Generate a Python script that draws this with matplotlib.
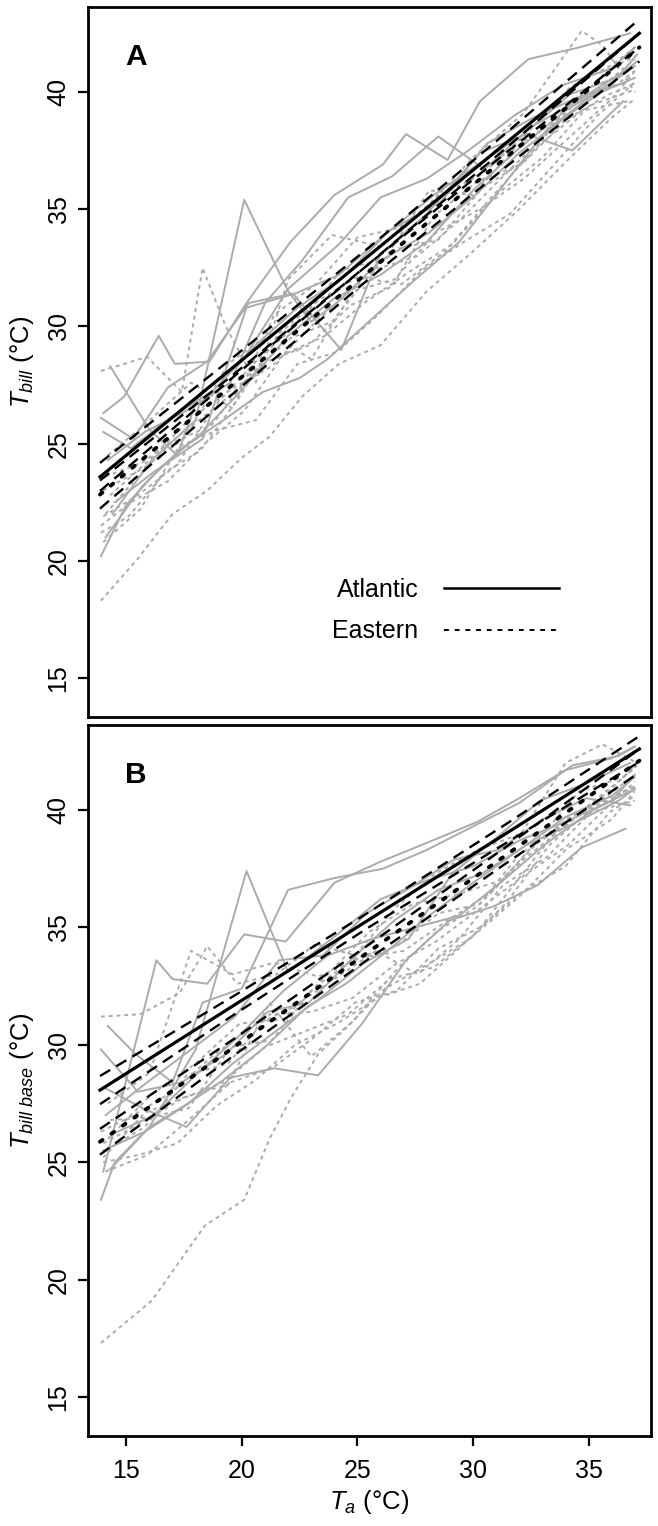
import numpy as np
import matplotlib
matplotlib.use("Agg")
from matplotlib import pyplot as plt

plt.rcParams['font.family'] = ['Liberation Sans', 'DejaVu Sans']
plt.rcParams['mathtext.fontset'] = 'custom'
plt.rcParams['mathtext.rm'] = 'Liberation Sans'
plt.rcParams['mathtext.it'] = 'Liberation Sans:italic'

""" ======================= Data: panel A (T bill) ======================= """
# individual birds, Atlantic (solid grey)
A_atl = [
    ([14.4, 16.1, 18.0, 20.1, 22.0, 23.0, 24.1, 26.0, 28.1, 30.1, 32.0, 34.1, 36.0, 37.1],
     [22.0, 24.3, 26.0, 35.4, 31.5, 30.2, 31.0, 32.8, 34.0, 35.6, 37.4, 39.0, 40.3, 41.6]),
    ([14.0, 14.9, 16.4, 17.1, 18.6, 20.2, 22.1, 24.0, 26.1, 27.1, 28.9, 30.3, 32.4, 34.6, 36.8],
     [26.3, 27.0, 29.6, 28.4, 28.5, 31.0, 33.6, 35.6, 36.9, 38.2, 37.1, 39.6, 41.4, 41.9, 42.5]),
    ([14.3, 16.0, 17.2, 18.1, 20.0, 22.0, 24.2, 26.0, 28.0, 29.8, 31.8, 33.9, 36.0, 37.0],
     [28.3, 25.6, 24.5, 27.0, 28.5, 31.6, 33.5, 35.5, 36.3, 37.5, 39.0, 40.3, 41.0, 41.9]),
    ([13.9, 15.3, 16.8, 18.5, 20.3, 22.2, 24.3, 26.0, 28.0, 30.3, 32.3, 34.3, 36.5],
     [26.1, 25.2, 27.4, 28.5, 31.0, 31.4, 29.0, 33.1, 34.8, 37.4, 38.2, 37.5, 39.6]),
    ([13.9, 15.0, 16.5, 18.2, 20.0, 22.0, 24.0, 26.0, 28.0, 30.0, 32.0, 34.0, 36.0, 37.0],
     [20.2, 22.4, 24.0, 25.4, 27.3, 29.6, 31.2, 32.2, 33.6, 35.8, 37.6, 39.2, 40.4, 41.1]),
    ([14.1, 15.7, 17.4, 19.2, 20.9, 22.5, 23.7, 25.6, 27.5, 29.4, 31.3, 33.2, 35.1, 37.0],
     [21.0, 23.2, 24.8, 26.0, 27.2, 27.8, 28.6, 30.3, 32.0, 33.6, 36.0, 38.4, 39.8, 40.6]),
    ([14.2, 15.8, 17.6, 19.5, 21.0, 22.6, 24.6, 26.5, 28.5, 30.5, 32.5, 34.5, 36.4],
     [24.3, 25.5, 26.4, 27.6, 31.0, 32.8, 35.5, 36.4, 38.1, 36.7, 38.5, 39.6, 40.8]),
    ([14.0, 15.2, 16.9, 18.8, 20.6, 22.4, 24.4, 26.3, 28.3, 30.2, 32.2, 34.2, 36.2, 37.1],
     [25.5, 24.8, 26.1, 27.3, 29.2, 30.8, 32.1, 34.0, 35.6, 36.9, 38.2, 39.9, 40.6, 41.3]),
    ([14.5, 16.2, 18.3, 20.2, 22.3, 24.2, 26.4, 28.6, 30.6, 32.6, 34.6, 36.6],
     [22.5, 23.8, 25.2, 30.8, 31.4, 32.2, 34.1, 35.3, 37.8, 38.9, 39.8, 40.4]),
]

# individual birds, Eastern (dotted grey)
A_eas = [
    ([13.9, 15.9, 17.4, 18.3, 19.3, 20.6, 22.0, 23.9, 26.0, 28.0, 30.0, 32.2, 34.7, 35.6, 37.0],
     [28.1, 28.7, 27.2, 32.5, 30.0, 27.6, 32.0, 33.9, 33.4, 35.1, 37.2, 39.1, 42.6, 42.0, 40.0]),
    ([13.9, 15.5, 17.0, 18.5, 20.0, 21.2, 22.6, 24.2, 26.0, 28.0, 30.0, 32.0, 34.0, 36.0, 37.0],
     [18.3, 20.1, 22.0, 23.0, 24.4, 25.3, 27.0, 28.4, 29.2, 31.5, 33.2, 35.0, 37.0, 38.9, 39.7]),
    ([13.9, 15.2, 16.8, 18.4, 20.1, 21.8, 23.6, 25.3, 27.2, 29.1, 31.0, 33.0, 35.0, 37.0],
     [21.5, 22.5, 23.4, 25.0, 26.4, 28.8, 29.6, 31.0, 32.3, 33.5, 35.6, 37.2, 39.4, 40.1]),
    ([14.0, 15.6, 17.3, 19.0, 20.6, 22.4, 24.1, 25.9, 27.8, 29.6, 31.6, 33.6, 35.4, 37.1],
     [20.8, 22.2, 24.9, 25.6, 26.0, 28.4, 28.9, 30.5, 32.4, 33.6, 34.8, 37.0, 39.0, 40.5]),
    ([14.1, 15.4, 16.9, 18.7, 20.4, 22.1, 23.9, 25.7, 27.6, 29.5, 31.4, 33.4, 35.3, 37.0],
     [22.0, 23.5, 25.0, 25.8, 28.0, 29.5, 30.2, 32.4, 33.0, 34.6, 36.5, 38.4, 40.0, 41.4]),
    ([14.0, 15.8, 17.6, 19.4, 21.2, 23.0, 24.8, 26.6, 28.4, 30.3, 32.2, 34.1, 36.0, 37.1],
     [23.0, 24.0, 25.3, 28.4, 29.7, 28.6, 31.5, 32.0, 34.0, 35.0, 36.3, 38.0, 39.7, 41.0]),
    ([14.2, 15.9, 17.8, 19.6, 21.4, 23.2, 25.0, 26.8, 28.6, 30.4, 32.3, 34.2, 36.1, 37.0],
     [24.5, 25.9, 27.6, 26.5, 30.5, 31.8, 33.8, 34.2, 35.6, 36.5, 38.2, 40.2, 41.2, 41.9]),
    ([13.9, 15.1, 16.7, 18.2, 19.9, 21.6, 23.3, 25.0, 26.9, 28.8, 30.7, 32.7, 34.7, 36.7],
     [21.2, 21.9, 23.8, 24.7, 27.0, 29.7, 31.1, 32.1, 31.8, 33.2, 35.4, 37.6, 39.2, 39.6]),
    ([14.3, 16.0, 17.7, 19.5, 21.3, 23.1, 24.9, 26.7, 28.5, 30.4, 32.3, 34.2, 36.2, 37.0],
     [22.8, 24.3, 26.0, 27.3, 28.3, 30.1, 31.7, 33.3, 33.7, 35.9, 37.1, 39.6, 40.3, 40.9]),
    ([14.0, 15.5, 17.2, 18.9, 20.7, 22.5, 24.3, 26.2, 28.1, 30.0, 31.9, 33.9, 35.9, 37.0],
     [21.9, 22.8, 24.1, 26.7, 28.6, 30.2, 32.4, 32.9, 35.8, 35.6, 37.7, 39.0, 41.0, 41.5]),
    ([14.1, 15.7, 17.5, 19.3, 21.1, 22.9, 24.7, 26.5, 28.3, 30.2, 32.1, 34.0, 35.9, 37.1],
     [23.6, 24.2, 25.5, 26.9, 28.5, 29.2, 30.9, 31.7, 34.7, 36.2, 36.9, 38.8, 39.9, 40.4]),
]

# model fits with confidence limits
fit_x = [13.86, 19.7, 25.5, 31.4, 37.2]
A_atl_fit = [23.58, 28.32, 33.02, 37.80, 42.50]
A_atl_up = [24.18, 28.74, 33.37, 38.22, 43.10]
A_atl_lo = [22.98, 27.90, 32.67, 37.38, 41.90]
A_eas_fit = [22.83, 27.60, 32.35, 37.18, 41.90]
A_eas_up = [23.43, 28.00, 32.67, 37.58, 42.50]
A_eas_lo = [22.23, 27.20, 32.03, 36.78, 41.30]

""" ======================= Data: panel B (T bill base) ======================= """
B_atl = [
    ([14.3, 16.0, 18.0, 20.2, 22.0, 24.0, 26.0, 28.0, 30.0, 32.0, 34.0, 36.0, 37.0],
     [24.7, 26.5, 29.8, 37.4, 33.1, 34.6, 36.2, 37.0, 37.6, 38.7, 39.5, 40.4, 41.5]),
    ([14.0, 16.3, 17.0, 18.5, 20.1, 21.9, 24.0, 26.0, 28.0, 30.2, 32.0, 34.0, 36.0, 37.0],
     [24.6, 33.6, 32.8, 32.6, 34.7, 34.4, 36.9, 37.8, 38.6, 39.5, 40.5, 41.7, 42.2, 42.7]),
    ([14.2, 15.4, 17.0, 18.3, 20.0, 22.0, 24.0, 26.1, 28.0, 30.0, 32.0, 34.3, 36.3, 37.0],
     [30.8, 29.6, 28.4, 31.8, 32.4, 36.6, 37.1, 37.5, 38.3, 39.3, 40.3, 41.9, 42.3, 42.7]),
    ([13.9, 15.5, 17.4, 19.3, 21.1, 22.9, 24.8, 26.6, 28.5, 30.4, 32.3, 34.3, 36.3, 37.0],
     [29.8, 28.0, 28.4, 29.6, 31.4, 31.8, 33.7, 35.3, 36.6, 37.3, 38.5, 39.4, 40.4, 40.9]),
    ([13.9, 14.5, 16.0, 17.5, 19.2, 21.0, 22.8, 24.5, 26.3, 28.1, 30.0, 32.0, 34.0, 36.0, 37.0],
     [23.4, 25.0, 26.5, 27.4, 28.5, 29.9, 31.6, 32.6, 34.0, 35.5, 36.9, 38.3, 39.7, 40.6, 41.4]),
    ([14.0, 15.7, 17.6, 19.5, 21.4, 23.3, 25.2, 27.1, 29.0, 30.9, 32.8, 34.7, 36.6],
     [28.2, 27.3, 26.5, 28.6, 29.0, 28.7, 30.9, 33.6, 35.3, 35.9, 36.8, 38.4, 39.2]),
    ([14.1, 15.9, 17.8, 19.7, 21.6, 23.5, 25.4, 27.3, 29.2, 31.1, 33.0, 34.9, 36.8],
     [27.0, 28.4, 29.8, 31.2, 33.6, 33.8, 35.6, 36.7, 37.9, 38.3, 39.6, 40.5, 40.2]),
    ([14.4, 16.2, 18.1, 19.9, 21.8, 23.7, 25.6, 27.5, 29.4, 31.3, 33.2, 35.2, 37.0],
     [26.2, 27.0, 28.8, 30.4, 32.3, 33.8, 34.5, 35.0, 35.5, 37.0, 38.6, 40.0, 40.9]),
    ([14.0, 15.8, 17.7, 19.6, 21.5, 23.4, 25.3, 27.2, 29.1, 31.0, 32.9, 34.8, 36.8],
     [25.5, 26.3, 27.5, 29.2, 30.6, 32.0, 33.5, 34.5, 37.3, 38.8, 40.4, 41.1, 42.0]),
]

B_eas = [
    ([13.9, 16.1, 18.4, 20.1, 21.2, 22.1, 23.3, 24.6, 26.2, 28.0, 30.0, 32.0, 34.0, 36.0, 37.0],
     [17.3, 19.1, 22.3, 23.4, 26.0, 27.7, 29.6, 30.8, 32.4, 33.4, 34.6, 37.1, 39.6, 40.6, 41.0]),
    ([13.9, 15.6, 17.3, 18.5, 19.8, 21.5, 23.2, 24.9, 26.7, 28.4, 30.2, 32.1, 34.0, 35.6, 37.1],
     [31.2, 31.3, 32.2, 34.2, 32.6, 33.0, 34.3, 33.8, 35.9, 37.3, 38.3, 39.0, 42.0, 42.8, 42.0]),
    ([14.0, 15.5, 17.2, 18.9, 20.6, 22.3, 24.1, 25.9, 27.7, 29.5, 31.4, 33.3, 35.2, 37.0],
     [25.0, 25.3, 25.8, 27.4, 28.5, 30.0, 30.9, 32.0, 32.6, 34.2, 36.0, 38.5, 40.1, 41.0]),
    ([14.1, 15.8, 17.6, 19.4, 21.2, 23.0, 24.8, 26.6, 28.4, 30.3, 32.2, 34.1, 36.0, 37.0],
     [25.5, 26.5, 28.7, 29.2, 31.3, 31.4, 32.0, 33.4, 34.4, 35.8, 37.2, 38.5, 40.3, 41.2]),
    ([13.9, 15.3, 17.0, 18.7, 20.5, 22.2, 24.0, 25.8, 27.6, 29.4, 31.3, 33.2, 35.1, 37.0],
     [26.3, 27.0, 28.0, 29.5, 30.8, 31.6, 32.8, 34.0, 33.0, 34.5, 36.8, 38.0, 39.9, 40.4]),
    ([14.2, 16.0, 17.8, 19.6, 21.4, 23.3, 25.1, 27.0, 28.9, 30.8, 32.7, 34.6, 36.5, 37.1],
     [27.5, 28.8, 34.0, 33.0, 33.5, 32.9, 33.7, 34.0, 35.3, 36.5, 38.6, 40.8, 41.4, 41.9]),
    ([14.0, 15.7, 17.4, 19.2, 21.0, 22.8, 24.6, 26.4, 28.3, 30.2, 32.1, 34.0, 36.0, 37.0],
     [25.8, 26.7, 27.7, 28.4, 29.9, 30.6, 31.3, 32.8, 33.3, 34.8, 36.4, 38.3, 39.6, 40.8]),
    ([14.3, 16.0, 17.7, 19.5, 21.3, 23.1, 24.9, 26.7, 28.5, 30.3, 32.2, 34.1, 36.0, 36.9],
     [26.8, 26.9, 27.3, 29.9, 30.2, 32.4, 33.7, 34.2, 35.6, 36.0, 37.9, 39.4, 40.9, 41.8]),
    ([14.1, 15.9, 17.7, 19.5, 21.3, 23.1, 24.9, 26.7, 28.5, 30.3, 32.1, 34.0, 35.9, 37.0],
     [24.6, 25.3, 26.8, 28.4, 29.0, 30.3, 31.8, 32.3, 34.1, 35.0, 36.5, 37.6, 39.9, 40.6]),
    ([14.0, 15.8, 17.6, 19.4, 21.2, 23.0, 24.8, 26.6, 28.4, 30.2, 32.0, 33.9, 35.8, 37.0],
     [25.2, 27.1, 27.8, 28.3, 31.8, 29.5, 31.0, 33.1, 34.8, 35.9, 38.1, 39.3, 40.6, 41.5]),
    ([14.2, 16.1, 18.0, 19.9, 21.8, 23.6, 25.5, 27.4, 29.3, 31.2, 33.1, 35.0, 36.9],
     [26.0, 27.9, 29.2, 30.9, 31.1, 32.9, 34.8, 36.0, 36.4, 37.0, 38.9, 40.2, 41.7]),
]

B_atl_fit = [28.07, 31.71, 35.33, 38.98, 42.60]
B_atl_up = [28.67, 32.11, 35.65, 39.38, 43.15]
B_atl_lo = [27.47, 31.31, 35.01, 38.58, 42.05]
B_eas_fit = [25.87, 29.93, 33.97, 38.06, 42.10]
B_eas_up = [26.42, 30.28, 34.27, 38.41, 42.60]
B_eas_lo = [25.32, 29.58, 33.67, 37.71, 41.60]

yticks = [15, 20, 25, 30, 35, 40]
xticks = [15, 20, 25, 30, 35]

""" ======================= Plotting ======================= """
grey = '#ababab'
dash = (0, (5, 3))
dots = (0, (0.8, 2.8))


def draw_panel(ax, atl, eas, atl_fit, atl_up, atl_lo, eas_fit, eas_up, eas_lo, letter):
    for x, y in atl:
        ax.plot(x, y, color=grey, lw=1.4, solid_joinstyle='round')
    for x, y in eas:
        ax.plot(x, y, color=grey, lw=1.4, linestyle=(0, (2, 2)))
    ax.plot(fit_x, atl_fit, color='black', lw=2.3)
    ax.plot(fit_x, atl_up, color='black', lw=1.7, linestyle=dash)
    ax.plot(fit_x, atl_lo, color='black', lw=1.7, linestyle=dash)
    ax.plot(fit_x, eas_fit, color='black', lw=2.8, linestyle=dots, dash_capstyle='round')
    ax.plot(fit_x, eas_up, color='black', lw=1.7, linestyle=dash)
    ax.plot(fit_x, eas_lo, color='black', lw=1.7, linestyle=dash)

    ax.set_xlim(13.34, 37.7)
    ax.set_ylim(13.34, 43.62)
    ax.set_yticks(yticks)
    ax.set_xticks(xticks)
    for s in ax.spines.values():
        s.set_linewidth(2.0)
    ax.tick_params(axis='both', direction='out', length=7.5, width=1.6, labelsize=18, pad=5)
    for t in ax.get_yticklabels():
        t.set_rotation(90)
        t.set_verticalalignment('center')
    ax.text(0.066, 0.918, letter, transform=ax.transAxes, fontsize=21.5,
            fontweight='bold', ha='left', va='baseline')


fig = plt.figure(figsize=(6.58, 15.26), dpi=100)
axA = fig.add_axes([0.1337, 0.5301, 0.8556, 0.4653])
axB = fig.add_axes([0.1337, 0.0590, 0.8556, 0.4659])

draw_panel(axA, A_atl, A_eas, A_atl_fit, A_atl_up, A_atl_lo,
           A_eas_fit, A_eas_up, A_eas_lo, 'A')
draw_panel(axB, B_atl, B_eas, B_atl_fit, B_atl_up, B_atl_lo,
           B_eas_fit, B_eas_up, B_eas_lo, 'B')

axA.tick_params(axis='x', bottom=False, labelbottom=False)
axB.tick_params(axis='x', pad=9)

axA.set_ylabel(r'$T_{bill}$ (°C)', fontsize=18.5, labelpad=8)
axB.set_ylabel(r'$T_{bill\ base}$ (°C)', fontsize=18.5, labelpad=8)
axB.set_xlabel(r'$T_a$ (°C)', fontsize=18.5, labelpad=4)
fig.align_ylabels([axA, axB])

# legend (text left, line right)
hA, = axA.plot([], [], color='black', lw=1.8, label='Atlantic')
hE, = axA.plot([], [], color='black', lw=1.4, linestyle=(0, (2.5, 3)), label='Eastern')
axA.legend(handles=[hA, hE], loc='center', bbox_to_anchor=(0.635, 0.15),
           frameon=False, markerfirst=False, fontsize=18, handlelength=4.6,
           handletextpad=1.0, labelspacing=0.7)

plt.savefig('out.png', dpi=100)
